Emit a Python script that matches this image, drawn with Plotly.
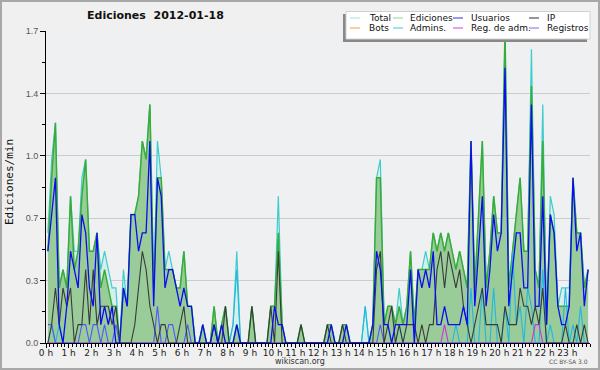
import plotly.graph_objects as go

# ---------------- data (edits per minute, 10-minute bins, 2012-01-18) ----------------
hour_labels = ["0 h", "1 h", "2 h", "3 h", "4 h", "5 h", "6 h", "7 h", "8 h", "9 h",
               "10 h", "11 h", "12 h", "13 h", "14 h", "15 h", "16 h", "17 h", "18 h",
               "19 h", "20 h", "21 h", "22 h", "23 h"]
y_tick_values = [0.0, 0.34, 0.68, 1.02, 1.36, 1.7]
y_tick_labels = ["0.0", "0.3", "0.7", "1.0", "1.4", "1.7"]

total = [
    0.6, 1.0, 1.2, 0.3, 0.4, 0.3,
    0.8, 0.5, 0.5, 0.9, 1.0, 0.5,
    0.5, 0.6, 0.4, 0.5, 0.4, 0.3,
    0.3, 0.0, 0.4, 0.2, 0.7, 0.7,
    0.8, 1.1, 1.0, 1.3, 0.3, 1.1,
    0.9, 0.4, 0.5, 0.4, 0.3, 0.3,
    0.5, 0.2, 0.2, 0.0, 0.0, 0.1,
    0.0, 0.0, 0.2, 0.0, 0.1, 0.2,
    0.0, 0.1, 0.5, 0.0, 0.0, 0.0,
    0.2, 0.0, 0.0, 0.0, 0.0, 0.2,
    0.2, 0.8, 0.1, 0.0, 0.0, 0.0,
    0.0, 0.1, 0.0, 0.0, 0.0, 0.0,
    0.0, 0.0, 0.1, 0.1, 0.0, 0.0,
    0.1, 0.1, 0.0, 0.0, 0.0, 0.0,
    0.2, 0.0, 0.1, 0.9, 1.0, 0.1,
    0.2, 0.2, 0.1, 0.3, 0.1, 0.2,
    0.5, 0.1, 0.4, 0.4, 0.5, 0.4,
    0.6, 0.5, 0.6, 0.5, 0.6, 0.5,
    0.4, 0.5, 0.4, 0.3, 1.1, 0.3,
    0.7, 1.1, 0.3, 0.5, 0.8, 0.6,
    0.6, 1.7, 0.3, 0.5, 0.7, 0.9,
    0.5, 0.5, 1.6, 0.4, 0.3, 1.3,
    0.1, 0.8, 0.7, 0.2, 0.3, 0.3,
    0.3, 0.9, 0.6, 0.6, 0.3, 0.4,
]
ediciones = [
    0.5, 0.9, 1.2, 0.3, 0.4, 0.3,
    0.8, 0.4, 0.5, 0.8, 1.0, 0.5,
    0.5, 0.6, 0.3, 0.4, 0.3, 0.2,
    0.2, 0.0, 0.3, 0.2, 0.7, 0.7,
    0.8, 1.1, 1.0, 1.3, 0.3, 0.9,
    0.9, 0.4, 0.4, 0.4, 0.3, 0.3,
    0.5, 0.2, 0.2, 0.0, 0.0, 0.1,
    0.0, 0.0, 0.2, 0.0, 0.1, 0.2,
    0.0, 0.0, 0.1, 0.0, 0.0, 0.0,
    0.2, 0.0, 0.0, 0.0, 0.0, 0.2,
    0.2, 0.6, 0.1, 0.0, 0.0, 0.0,
    0.0, 0.1, 0.0, 0.0, 0.0, 0.0,
    0.0, 0.0, 0.1, 0.1, 0.0, 0.0,
    0.1, 0.1, 0.0, 0.0, 0.0, 0.0,
    0.0, 0.0, 0.1, 0.9, 0.9, 0.1,
    0.2, 0.2, 0.1, 0.2, 0.1, 0.2,
    0.5, 0.1, 0.4, 0.4, 0.4, 0.4,
    0.6, 0.5, 0.6, 0.5, 0.6, 0.5,
    0.4, 0.5, 0.4, 0.3, 1.1, 0.3,
    0.7, 1.1, 0.3, 0.5, 0.8, 0.6,
    0.6, 1.7, 0.3, 0.5, 0.7, 0.9,
    0.5, 0.5, 1.4, 0.4, 0.3, 1.1,
    0.1, 0.7, 0.6, 0.2, 0.2, 0.2,
    0.2, 0.9, 0.6, 0.6, 0.3, 0.4,
]
usuarios = [
    0.5, 0.7, 0.9, 0.1, 0.0, 0.2,
    0.5, 0.4, 0.3, 0.7, 0.6, 0.3,
    0.2, 0.6, 0.1, 0.2, 0.1, 0.2,
    0.0, 0.0, 0.3, 0.2, 0.7, 0.7,
    0.5, 0.6, 0.6, 1.1, 0.2, 0.9,
    0.8, 0.3, 0.4, 0.4, 0.3, 0.2,
    0.3, 0.2, 0.2, 0.0, 0.0, 0.1,
    0.0, 0.0, 0.1, 0.0, 0.1, 0.0,
    0.0, 0.0, 0.1, 0.0, 0.0, 0.0,
    0.0, 0.0, 0.0, 0.0, 0.0, 0.0,
    0.2, 0.1, 0.1, 0.0, 0.0, 0.0,
    0.0, 0.0, 0.0, 0.0, 0.0, 0.0,
    0.0, 0.0, 0.0, 0.1, 0.0, 0.0,
    0.0, 0.1, 0.0, 0.0, 0.0, 0.0,
    0.0, 0.0, 0.1, 0.5, 0.4, 0.1,
    0.1, 0.0, 0.1, 0.1, 0.1, 0.1,
    0.4, 0.0, 0.4, 0.3, 0.4, 0.3,
    0.5, 0.1, 0.1, 0.2, 0.1, 0.1,
    0.1, 0.1, 0.2, 0.1, 1.1, 0.2,
    0.5, 0.8, 0.2, 0.4, 0.7, 0.5,
    0.6, 1.5, 0.2, 0.4, 0.6, 0.6,
    0.3, 0.3, 1.3, 0.2, 0.2, 0.8,
    0.1, 0.7, 0.6, 0.2, 0.1, 0.1,
    0.2, 0.9, 0.5, 0.6, 0.2, 0.4,
]
ip = [
    0.0, 0.1, 0.3, 0.1, 0.3, 0.2,
    0.3, 0.0, 0.1, 0.1, 0.4, 0.1,
    0.4, 0.1, 0.2, 0.2, 0.2, 0.1,
    0.2, 0.0, 0.0, 0.0, 0.0, 0.1,
    0.3, 0.5, 0.4, 0.2, 0.1, 0.0,
    0.1, 0.1, 0.0, 0.0, 0.0, 0.1,
    0.2, 0.0, 0.0, 0.0, 0.0, 0.0,
    0.0, 0.0, 0.1, 0.0, 0.0, 0.2,
    0.0, 0.0, 0.0, 0.0, 0.0, 0.0,
    0.2, 0.0, 0.0, 0.0, 0.0, 0.2,
    0.0, 0.5, 0.0, 0.0, 0.0, 0.0,
    0.0, 0.1, 0.0, 0.0, 0.0, 0.0,
    0.0, 0.0, 0.1, 0.0, 0.0, 0.0,
    0.1, 0.0, 0.0, 0.0, 0.0, 0.0,
    0.0, 0.0, 0.0, 0.4, 0.5, 0.0,
    0.1, 0.2, 0.0, 0.1, 0.0, 0.1,
    0.1, 0.1, 0.0, 0.1, 0.0, 0.1,
    0.1, 0.4, 0.5, 0.3, 0.5, 0.4,
    0.3, 0.4, 0.2, 0.1, 0.0, 0.1,
    0.2, 0.3, 0.1, 0.1, 0.1, 0.1,
    0.0, 0.2, 0.1, 0.1, 0.1, 0.3,
    0.2, 0.2, 0.1, 0.2, 0.1, 0.3,
    0.0, 0.0, 0.0, 0.0, 0.0, 0.1,
    0.0, 0.0, 0.1, 0.0, 0.1, 0.0,
]
bots = [
    0.0, 0.0, 0.0, 0.0, 0.0, 0.0,  0.0, 0.0, 0.0, 0.0, 0.0, 0.0,
    0.0, 0.0, 0.0, 0.0, 0.0, 0.0,  0.0, 0.0, 0.0, 0.0, 0.0, 0.0,
    0.0, 0.0, 0.0, 0.0, 0.0, 0.0,  0.0, 0.0, 0.0, 0.0, 0.0, 0.0,
    0.0, 0.0, 0.0, 0.0, 0.0, 0.0,  0.0, 0.0, 0.0, 0.0, 0.0, 0.0,
    0.0, 0.0, 0.0, 0.0, 0.0, 0.0,  0.0, 0.0, 0.0, 0.0, 0.0, 0.0,
    0.0, 0.0, 0.0, 0.0, 0.0, 0.0,  0.0, 0.0, 0.0, 0.0, 0.0, 0.0,
    0.0, 0.0, 0.0, 0.0, 0.0, 0.0,  0.0, 0.0, 0.0, 0.0, 0.0, 0.0,
    0.0, 0.0, 0.0, 0.0, 0.0, 0.0,  0.0, 0.0, 0.0, 0.0, 0.0, 0.0,
    0.0, 0.0, 0.0, 0.0, 0.0, 0.0,  0.0, 0.0, 0.0, 0.0, 0.0, 0.0,
    0.0, 0.0, 0.0, 0.0, 0.0, 0.0,  0.0, 0.0, 0.0, 0.0, 0.0, 0.0,
    0.0, 0.0, 0.0, 0.0, 0.0, 0.0,  0.0, 0.0, 0.0, 0.0, 0.0, 0.0,
    0.0, 0.0, 0.0, 0.0, 0.0, 0.0,  0.0, 0.0, 0.0, 0.0, 0.0, 0.0,
]
admins = [
    0.0, 0.1, 0.0, 0.1, 0.0, 0.0,  0.0, 0.0, 0.0, 0.0, 0.0, 0.0,
    0.0, 0.0, 0.0, 0.0, 0.0, 0.0,  0.0, 0.0, 0.0, 0.0, 0.0, 0.0,
    0.0, 0.0, 0.0, 0.0, 0.0, 0.0,  0.0, 0.0, 0.0, 0.0, 0.0, 0.0,
    0.0, 0.0, 0.0, 0.0, 0.0, 0.0,  0.0, 0.0, 0.0, 0.0, 0.0, 0.0,
    0.0, 0.1, 0.4, 0.0, 0.0, 0.0,  0.0, 0.0, 0.0, 0.0, 0.0, 0.0,
    0.0, 0.0, 0.0, 0.0, 0.0, 0.0,  0.0, 0.0, 0.0, 0.0, 0.0, 0.0,
    0.0, 0.0, 0.0, 0.0, 0.0, 0.0,  0.0, 0.0, 0.0, 0.0, 0.0, 0.0,
    0.2, 0.0, 0.0, 0.0, 0.0, 0.0,  0.0, 0.0, 0.0, 0.1, 0.0, 0.0,
    0.0, 0.0, 0.0, 0.0, 0.0, 0.0,  0.0, 0.0, 0.0, 0.0, 0.0, 0.0,
    0.1, 0.0, 0.0, 0.0, 0.3, 0.0,  0.0, 0.3, 0.0, 0.0, 0.3, 0.0,
    0.0, 0.2, 0.0, 0.5, 0.1, 0.2,  0.0, 0.3, 0.2, 0.0, 0.0, 0.4,
    0.0, 0.1, 0.0, 0.0, 0.0, 0.3,  0.0, 0.1, 0.0, 0.2, 0.0, 0.0,
]
reg_adm = [
    0.0, 0.0, 0.0, 0.0, 0.0, 0.0,  0.0, 0.0, 0.0, 0.0, 0.0, 0.0,
    0.0, 0.0, 0.0, 0.0, 0.0, 0.0,  0.0, 0.0, 0.0, 0.0, 0.0, 0.0,
    0.0, 0.0, 0.0, 0.0, 0.0, 0.0,  0.0, 0.0, 0.0, 0.0, 0.0, 0.0,
    0.0, 0.0, 0.0, 0.0, 0.0, 0.0,  0.0, 0.0, 0.0, 0.0, 0.0, 0.0,
    0.0, 0.0, 0.0, 0.0, 0.0, 0.0,  0.0, 0.0, 0.0, 0.0, 0.0, 0.0,
    0.0, 0.0, 0.0, 0.0, 0.0, 0.0,  0.0, 0.0, 0.0, 0.0, 0.0, 0.0,
    0.0, 0.0, 0.0, 0.0, 0.0, 0.0,  0.0, 0.0, 0.0, 0.0, 0.0, 0.0,
    0.0, 0.0, 0.0, 0.0, 0.0, 0.0,  0.0, 0.0, 0.0, 0.0, 0.0, 0.0,
    0.0, 0.0, 0.0, 0.0, 0.0, 0.0,  0.0, 0.0, 0.0, 0.1, 0.0, 0.0,
    0.0, 0.0, 0.0, 0.0, 0.0, 0.0,  0.0, 0.0, 0.0, 0.0, 0.0, 0.0,
    0.0, 0.0, 0.0, 0.0, 0.0, 0.0,  0.0, 0.0, 0.0, 0.1, 0.1, 0.0,
    0.0, 0.0, 0.0, 0.0, 0.0, 0.0,  0.0, 0.0, 0.0, 0.0, 0.0, 0.0,
]
registros = [
    0.1, 0.1, 0.0, 0.0, 0.0, 0.0,  0.0, 0.0, 0.0, 0.1, 0.1, 0.0,
    0.1, 0.1, 0.0, 0.1, 0.0, 0.0,  0.1, 0.0, 0.0, 0.0, 0.0, 0.0,
    0.0, 0.0, 0.0, 0.0, 0.0, 0.2,  0.0, 0.0, 0.1, 0.1, 0.0, 0.0,
    0.0, 0.1, 0.0, 0.0, 0.0, 0.0,  0.0, 0.0, 0.0, 0.0, 0.0, 0.0,
    0.0, 0.0, 0.0, 0.0, 0.0, 0.0,  0.0, 0.0, 0.0, 0.0, 0.0, 0.0,
    0.0, 0.0, 0.0, 0.0, 0.0, 0.0,  0.0, 0.0, 0.0, 0.0, 0.0, 0.0,
    0.0, 0.0, 0.0, 0.0, 0.0, 0.0,  0.0, 0.0, 0.0, 0.0, 0.0, 0.0,
    0.0, 0.0, 0.0, 0.0, 0.1, 0.0,  0.0, 0.0, 0.0, 0.0, 0.0, 0.0,
    0.0, 0.0, 0.0, 0.0, 0.0, 0.0,  0.0, 0.0, 0.0, 0.0, 0.0, 0.0,
    0.0, 0.0, 0.0, 0.0, 0.0, 0.0,  0.0, 0.0, 0.0, 0.0, 0.0, 0.0,
    0.0, 0.0, 0.0, 0.0, 0.0, 0.0,  0.0, 0.0, 0.0, 0.0, 0.0, 0.0,
    0.0, 0.0, 0.0, 0.0, 0.0, 0.0,  0.0, 0.0, 0.0, 0.0, 0.0, 0.0,
]

# bin centres in minutes since midnight
minutes = [10 * i + 5 for i in range(len(total))]

# ---------------- figure ----------------
W, H = 600, 370
ML, MR, MT, MB = 46, 10, 31, 27
PW, PH = W - ML - MR, H - MT - MB


def px(x):
    return (x - ML) / PW


def py(y):
    return (H - MB - y) / PH


fig = go.Figure()
fig.add_trace(go.Scatter(x=minutes, y=total, name="Total", mode="lines",
                         line=dict(color="#3fcccc", width=1.2),
                         fill="tozeroy", fillcolor="#d6efec"))
fig.add_trace(go.Scatter(x=minutes, y=ediciones, name="Ediciones", mode="lines",
                         line=dict(color="#38ac38", width=1.5),
                         fill="tozeroy", fillcolor="#99cc99"))
fig.add_trace(go.Scatter(x=minutes, y=bots, name="Bots", mode="lines",
                         line=dict(color="#f0a040", width=1)))
fig.add_trace(go.Scatter(x=minutes, y=admins, name="Admins.", mode="lines",
                         line=dict(color="#22b8e0", width=1.1)))
fig.add_trace(go.Scatter(x=minutes, y=reg_adm, name="Reg. de adm.", mode="lines",
                         line=dict(color="#cc33dd", width=1.1)))
fig.add_trace(go.Scatter(x=minutes, y=registros, name="Registros", mode="lines",
                         line=dict(color="#5555ff", width=1.1)))
fig.add_trace(go.Scatter(x=minutes, y=ip, name="IP", mode="lines",
                         line=dict(color="#3a3a3a", width=1.1)))
fig.add_trace(go.Scatter(x=minutes, y=usuarios, name="Usuarios", mode="lines",
                         line=dict(color="#0c0cee", width=1.3)))

fig.update_layout(
    width=W, height=H, autosize=False,
    margin=dict(l=ML, r=MR, t=MT, b=MB, pad=0),
    paper_bgcolor="#f0f0f0", plot_bgcolor="#eef0f2",
    showlegend=False,
    font=dict(family="DejaVu Sans", size=9, color="#222"),
)
fig.update_xaxes(
    range=[0, 1440], tickmode="array",
    tickvals=[60 * h for h in range(24)], ticktext=hour_labels,
    ticks="outside", ticklen=4, tickwidth=1, tickcolor="#000",
    showline=True, linecolor="#000", linewidth=1,
    showgrid=False, zeroline=False,
    ticklabelstandoff=-3,
    tickfont=dict(family="DejaVu Sans", size=9, color="#222"),
    minor=dict(tickmode="linear", tick0=0, dtick=10, ticks="outside",
               ticklen=3, tickwidth=1, tickcolor="#000", showgrid=False),
)
fig.update_yaxes(
    range=[0, 1.7], tickmode="array",
    tickvals=y_tick_values, ticktext=y_tick_labels,
    ticks="outside", ticklen=5, tickwidth=1, tickcolor="#000",
    showline=True, linecolor="#000", linewidth=1,
    showgrid=True, gridcolor="#cccccc", gridwidth=1, zeroline=False,
    tickfont=dict(family="Liberation Sans", size=9, color="#555"),
    minor=dict(tickmode="linear", tick0=0, dtick=0.17, ticks="outside",
               ticklen=3, tickwidth=1, tickcolor="#000", showgrid=False),
)

annotations = [
    dict(text="<b>Ediciones  2012-01-18</b>", x=px(85), y=py(16), xref="paper", yref="paper",
         xanchor="left", yanchor="middle", showarrow=False,
         font=dict(family="DejaVu Sans", size=11, color="#111")),
    dict(text="Ediciones/min", x=px(10), y=py(182), xref="paper", yref="paper",
         xanchor="center", yanchor="middle", textangle=-90, showarrow=False,
         font=dict(family="DejaVu Sans Mono", size=11, color="#111")),
    dict(text="wikiscan.org", x=px(300), y=py(361), xref="paper", yref="paper",
         xanchor="center", yanchor="middle", showarrow=False,
         font=dict(family="DejaVu Sans", size=8, color="#333")),
    dict(text="CC BY-SA 3.0", x=px(590), y=py(361), xref="paper", yref="paper",
         xanchor="right", yanchor="middle", showarrow=False,
         font=dict(family="DejaVu Sans", size=6, color="#555")),
]

shapes = [
    # outer frame
    dict(type="rect", xref="paper", yref="paper", x0=px(0), x1=px(W), y0=py(H), y1=py(0),
         line=dict(color="#a8a8a8", width=4), fillcolor="rgba(0,0,0,0)", layer="above"),
    # legend shadow and box
    dict(type="rect", xref="paper", yref="paper", x0=px(343), x1=px(587), y0=py(42), y1=py(14),
         line=dict(width=0), fillcolor="#888888", layer="above"),
    dict(type="rect", xref="paper", yref="paper", x0=px(346), x1=px(590), y0=py(39), y1=py(11.5),
         line=dict(color="#d0d0d0", width=1), fillcolor="#ffffff", layer="above"),
]

legend_items = [
    ("Total", "#a8e0e0", 350, 367, 18), ("Ediciones", "#90d490", 393, 408, 18),
    ("Usuarios", "#3030e8", 453, 469, 18), ("IP", "#303030", 529, 545, 18),
    ("Bots", "#f0a040", 350, 367, 28), ("Admins.", "#40c4e0", 393, 408, 28),
    ("Reg. de adm.", "#d040e0", 453, 469, 28), ("Registros", "#7070f0", 529, 545, 28),
]
for name, col, lx, tx, ly in legend_items:
    shapes.append(dict(type="line", xref="paper", yref="paper", x0=px(lx), x1=px(lx + 10),
                       y0=py(ly), y1=py(ly), line=dict(color=col, width=1), layer="above"))
    annotations.append(dict(text=name, x=px(tx), y=py(ly), xref="paper", yref="paper",
                            xanchor="left", yanchor="middle", showarrow=False,
                            font=dict(family="DejaVu Sans", size=9, color="#111")))

fig.update_layout(annotations=annotations, shapes=shapes)
fig.write_html("out.html",
               config={"displayModeBar": False},
               post_script="document.body.style.margin='0';document.body.style.padding='0';")
